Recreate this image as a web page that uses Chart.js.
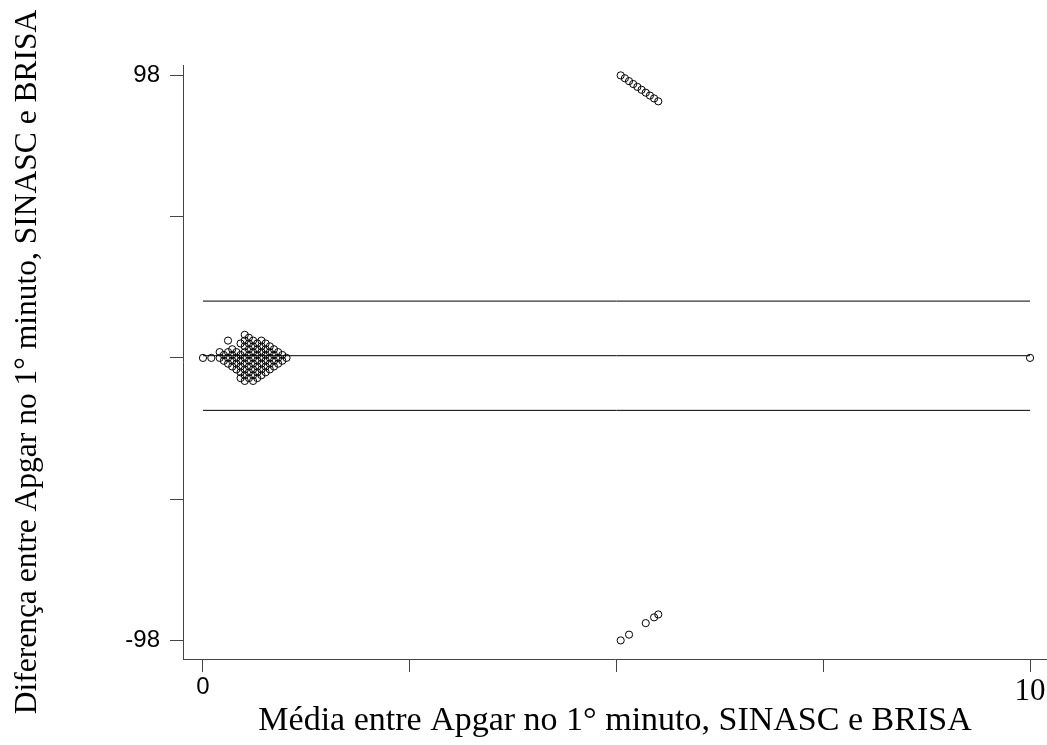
<!DOCTYPE html>
<html>
<head>
<meta charset="utf-8">
<script src="https://cdn.jsdelivr.net/npm/chart.js@4/dist/chart.umd.min.js"></script>
<style>
  html, body { margin: 0; padding: 0; background: #ffffff; }
  #wrap { width: 1047px; height: 745px; }
</style>
</head>
<body>
<div id="wrap"><canvas id="c" width="1047" height="745"></canvas></div>
<script>
// ---- Data (Bland-Altman: mean vs difference) ----
const clusterMean = [
  0, 1, 2, 2,
  2.5, 2.5,
  3, 3, 3, 3,
  3.5, 3.5, 3.5, 3.5,
  4, 4, 4, 4,
  4.5, 4.5, 4.5, 4.5, 4.5, 4.5,
  5, 5, 5, 5, 5, 5, 5, 5, 5,
  5.5, 5.5, 5.5, 5.5, 5.5, 5.5, 5.5, 5.5,
  6, 6, 6, 6, 6, 6, 6, 6,
  6.5, 6.5, 6.5, 6.5, 6.5, 6.5, 6.5,
  7, 7, 7, 7, 7, 7, 7,
  7.5, 7.5, 7.5, 7.5, 7.5, 7.5,
  8, 8, 8, 8, 8,
  8.5, 8.5, 8.5, 8.5,
  9, 9, 9,
  9.5, 9.5,
  10
];
const clusterDiff = [
  0, 0, 0, 2,
  1, -1,
  0, 2, -2, 6,
  1, -1, 3, -3,
  0, 2, -2, -4,
  1, -1, -3, -5, -7, 5,
  0, 2, -2, 4, -4, -6, 8, 6, -8,
  1, -1, 3, -3, 5, -5, 7, -7,
  0, 2, -2, 4, -4, 6, -6, -8,
  1, -1, 3, -3, 5, -5, -7,
  0, 2, -2, 4, -4, 6, -6,
  1, -1, 3, -3, 5, -5,
  0, 2, -2, 4, -4,
  1, -1, 3, -3,
  0, 2, -2,
  1, -1,
  0
];
const upperMean = [50, 50.5, 51, 51.5, 52, 52.5, 53, 53.5, 54, 54.5];
const upperDiff = [98, 97, 96, 95, 94, 93, 92, 91, 90, 89];
const lowerMean = [50, 51, 53, 54, 54.5];
const lowerDiff = [-98, -96, -92, -90, -89];
const farMean = [99];
const farDiff = [0];

const meanDiff = 0.76;
const upperLimit = 19.7;
const lowerLimit = -18.2;
const lineX = [0, 99];

const xTickValues = [0, 24.75, 49.5, 74.25, 99];
const xTickLabels = ['0', '', '', '', '10'];
const yTickValues = [-98, -49, 0, 49, 98];
const yTickLabels = ['-98', '', '', '', '98'];

const xTitle = 'Média entre Apgar no 1° minuto, SINASC e BRISA';
const yTitle = 'Diferença entre Apgar no 1° minuto, SINASC e BRISA';

// ---- Build datasets ----
function pts(xs, ys) { return xs.map((x, i) => ({ x: x, y: ys[i] })); }
const allMean = clusterMean.concat(upperMean, lowerMean, farMean);
const allDiff = clusterDiff.concat(upperDiff, lowerDiff, farDiff);

const pointStyle = {
  type: 'scatter',
  pointStyle: 'circle',
  pointRadius: 3.6,
  pointBorderWidth: 1,
  pointBorderColor: '#000000',
  pointBackgroundColor: 'rgba(0,0,0,0)',
  showLine: false
};
function hline(v) {
  return {
    type: 'line',
    data: lineX.map(x => ({ x: x, y: v })),
    borderColor: '#000000',
    borderWidth: 1,
    pointRadius: 0,
    fill: false
  };
}

const axisColor = '#444444';

new Chart(document.getElementById('c'), {
  data: {
    datasets: [
      hline(upperLimit),
      hline(meanDiff),
      hline(lowerLimit),
      Object.assign({ data: pts(allMean, allDiff) }, pointStyle)
    ]
  },
  options: {
    responsive: false,
    animation: false,
    events: [],
    layout: { autoPadding: false, padding: { top: 65, left: 0, right: 0, bottom: 0 } },
    plugins: { legend: { display: false }, tooltip: { enabled: false } },
    scales: {
      x: {
        type: 'linear',
        min: -2.39,
        max: 101.03,
        afterFit: (s) => { s.height = 86; s.paddingLeft = 0; s.paddingRight = 0; },
        afterBuildTicks: (s) => { s.ticks = xTickValues.map(v => ({ value: v })); },
        grid: { display: true, drawOnChartArea: false, drawTicks: true, tickLength: 13, color: axisColor, lineWidth: 1 },
        border: { display: true, color: axisColor, width: 1 },
        ticks: {
          autoSkip: false,
          maxRotation: 0,
          padding: 1,
          color: '#000000',
          font: (ctx) => (ctx.tick && ctx.tick.value === 99)
            ? { family: '"Liberation Serif", "Times New Roman", serif', size: 31 }
            : { family: '"Liberation Sans", Arial, sans-serif', size: 24 },
          callback: (v) => { const i = xTickValues.indexOf(v); return i >= 0 ? xTickLabels[i] : ''; }
        },
        title: {
          display: true,
          text: xTitle,
          color: '#000000',
          font: { family: '"Liberation Serif", "Times New Roman", serif', size: 34 },
          padding: { top: 0, bottom: 4 }
        }
      },
      y: {
        type: 'linear',
        min: -104.45,
        max: 101.6,
        afterFit: (s) => { s.width = 183; s.paddingTop = 0; s.paddingBottom = 0; },
        afterBuildTicks: (s) => { s.ticks = yTickValues.map(v => ({ value: v })); },
        grid: { display: true, drawOnChartArea: false, drawTicks: true, tickLength: 13, color: axisColor, lineWidth: 1 },
        border: { display: true, color: axisColor, width: 1 },
        ticks: {
          autoSkip: false,
          padding: 10,
          color: '#000000',
          font: { family: '"Liberation Sans", Arial, sans-serif', size: 24 },
          callback: (v) => { const i = yTickValues.indexOf(v); return i >= 0 ? yTickLabels[i] : ''; }
        },
        title: {
          display: true,
          text: yTitle,
          color: '#000000',
          font: { family: '"Liberation Serif", "Times New Roman", serif', size: 31.5 },
          padding: { top: 9, bottom: 0 }
        }
      }
    }
  }
});
</script>
</body>
</html>
